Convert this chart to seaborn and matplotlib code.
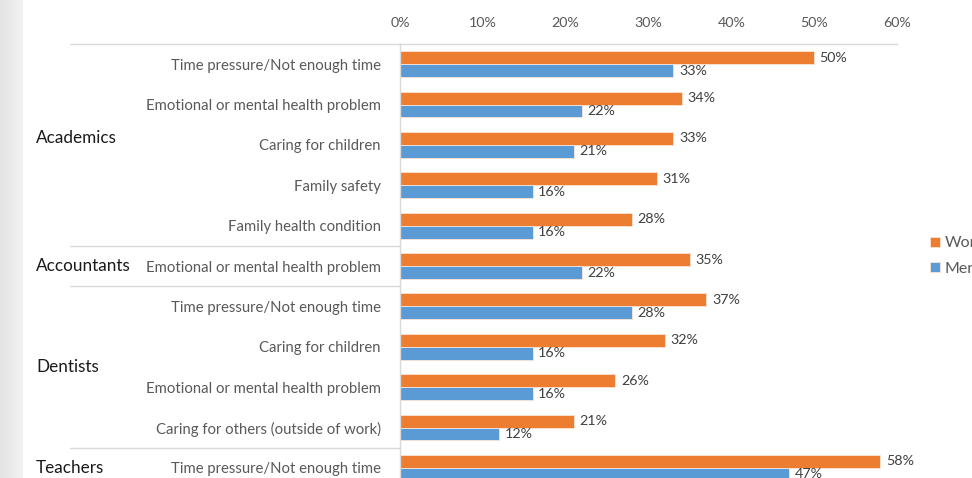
import numpy as np
import pandas as pd
import matplotlib
matplotlib.use("Agg")
import matplotlib.pyplot as plt
import matplotlib.transforms as mtransforms
from matplotlib.lines import Line2D
import seaborn as sns

# ---- data ----
groups = ["Academics", "Accountants", "Dentists", "Teachers"]
group_sizes = [5, 1, 4, 1]
reasons = [
    "Time pressure/Not enough time",
    "Emotional or mental health problem",
    "Caring for children",
    "Family safety",
    "Family health condition",
    "Emotional or mental health problem",
    "Time pressure/Not enough time",
    "Caring for children",
    "Emotional or mental health problem",
    "Caring for others (outside of work)",
    "Time pressure/Not enough time",
]
women = [50, 34, 33, 31, 28, 35, 37, 32, 26, 21, 58]
men = [33, 22, 21, 16, 16, 22, 28, 16, 16, 12, 47]
xticks = [0, 10, 20, 30, 40, 50, 60]
series = ["Women", "Men"]
colors = {"Women": "#ED7D31", "Men": "#5B9BD5"}

keys = [f"r{i}" for i in range(len(reasons))]
df = pd.DataFrame({
    "key": keys * 2,
    "value": women + men,
    "sex": ["Women"] * len(keys) + ["Men"] * len(keys),
})

sns.set_theme(style="white")
plt.rcParams["font.family"] = ["Lato", "DejaVu Sans"]

W, H = 972, 478
fig = plt.figure(figsize=(W / 100, H / 100), dpi=100)
fig.patch.set_facecolor("white")

# left grey slide band
bg = fig.add_axes([0, 0, 22 / W, 1])
bg.imshow(np.linspace(0.89, 0.95, 50).reshape(1, -1), cmap="gray", vmin=0, vmax=1,
          aspect="auto", extent=[0, 1, 0, 1])
bg.set_axis_off()

left = 400 / W
right = 897 / W
top = 1 - 44 / H
ax = fig.add_axes([left, 0, right - left, top])

sns.barplot(data=df, y="key", x="value", hue="sex", hue_order=series,
            palette=colors, orient="h", width=0.64, gap=0, ax=ax,
            linewidth=0.6, edgecolor="#fbe5d6", saturation=1, legend=True)

ax.set_xlim(0, 60)
ax.set_ylim(10.25, -0.5)
ax.set_xticks(xticks)
ax.set_xticklabels([f"{t}%" for t in xticks])
ax.xaxis.tick_top()
ax.tick_params(axis="x", length=0, pad=11, labelsize=10.3, labelcolor="#595959")
ax.set_yticks(range(len(reasons)))
ax.set_yticklabels(reasons)
ax.tick_params(axis="y", length=0, pad=14, labelsize=10.7, labelcolor="#595959")
ax.set_xlabel("")
ax.set_ylabel("")
for s in ["right", "bottom"]:
    ax.spines[s].set_visible(False)
for s in ["left", "top"]:
    ax.spines[s].set_color("#d9d9d9")
    ax.spines[s].set_linewidth(1)

for cont in ax.containers:
    ax.bar_label(cont, labels=[f"{v:.0f}%" for v in cont.datavalues],
                 padding=4, fontsize=10.3, color="#404040")

# legend (cut by figure edge like the reference)
handles, labels = ax.get_legend_handles_labels()
ax.get_legend().remove()
fig.legend(handles, labels, loc="upper left",
           bbox_to_anchor=(916 / W, 1 - 222 / H), frameon=False,
           handlelength=0.6, handleheight=0.6, handletextpad=0.3,
           labelspacing=0.7, fontsize=11.5, labelcolor="#595959")

# multi-level category separators
trans = mtransforms.blended_transform_factory(fig.transFigure, ax.transData)
bounds = np.cumsum(group_sizes)[:-1] - 0.5
for b in [-0.5] + list(bounds):
    fig.add_artist(Line2D([70 / W, left], [b, b], transform=trans,
                          color="#d9d9d9", lw=1))

# group labels
start = 0
for g, n in zip(groups, group_sizes):
    center = start + (n - 1) / 2
    if g == "Academics":
        center -= 0.18
    fig.text(36 / W, center, g, transform=trans, ha="left", va="center",
             fontsize=12.3, color="#1a1a1a")
    start += n

fig.savefig("out.png", dpi=100)
